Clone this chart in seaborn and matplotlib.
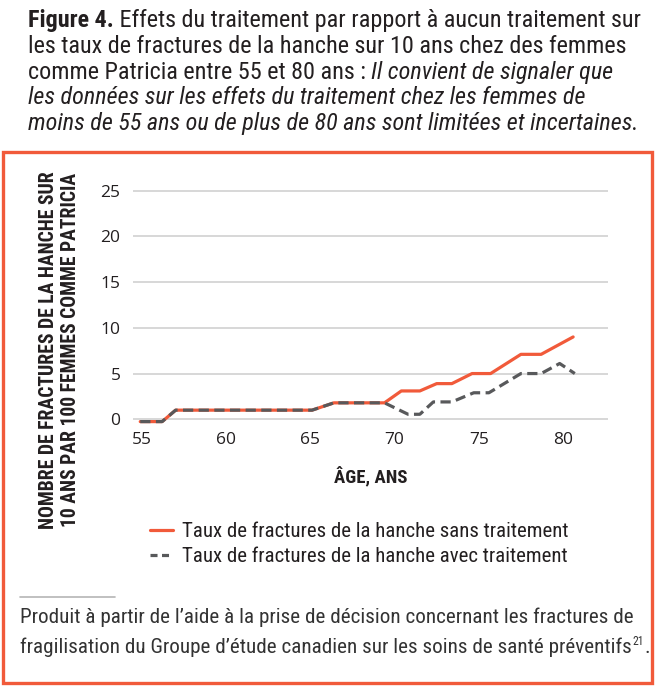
import matplotlib
matplotlib.use("Agg")
import matplotlib.pyplot as plt
import seaborn as sns
from matplotlib.patches import Rectangle
from matplotlib.lines import Line2D

# values
ages_sans = [54.9, 56.2, 57.0, 65.1, 66.4, 69.4, 70.4, 71.5, 72.5, 73.4, 74.6, 75.7, 77.5, 78.7, 80.6]
taux_sans = [-0.25, -0.25, 1.0, 1.0, 1.8, 1.8, 3.1, 3.1, 3.9, 3.9, 5.0, 5.0, 7.1, 7.1, 9.0]
ages_avec = [54.9, 56.2, 57.0, 65.1, 66.4, 69.4, 70.8, 71.5, 72.3, 73.4, 74.7, 75.6, 77.5, 78.7, 79.8, 80.7]
taux_avec = [-0.25, -0.25, 1.0, 1.0, 1.8, 1.8, 0.55, 0.55, 1.9, 1.9, 2.9, 2.9, 5.0, 5.0, 6.1, 5.0]
x_ticks = [55, 60, 65, 70, 75, 80]
y_ticks = [0, 5, 10, 15, 20, 25]
series_labels = ["Taux de fractures de la hanche sans traitement",
                 "Taux de fractures de la hanche avec traitement"]

title_lines = [
    [("Figure 4.", "bold", "normal"), (" Effets du traitement par rapport à aucun traitement sur", "normal", "normal")],
    [("les taux de fractures de la hanche sur 10 ans chez des femmes", "normal", "normal")],
    [("comme Patricia entre 55 et 80 ans : ", "normal", "normal"), ("Il convient de signaler que", "normal", "italic")],
    [("les données sur les effets du traitement chez les femmes de", "normal", "italic")],
    [("moins de 55 ans ou de plus de 80 ans sont limitées et incertaines.", "normal", "italic")],
]
footnote_lines = [
    "Produit à partir de l’aide à la prise de décision concernant les fractures de",
    "fragilisation du Groupe d’étude canadien sur les soins de santé préventifs",
]

RED = "#f15a3a"
GREY = "#58595b"
TEXT = "#231f20"
FONTS = ["Roboto Condensed", "Lato", "Roboto", "DejaVu Sans"]

sns.set_theme(style="white")
plt.rcParams["font.family"] = FONTS

W, H = 657, 687
fig = plt.figure(figsize=(W / 100, H / 100), dpi=100)
renderer = fig.canvas.get_renderer()


def fx(px):
    return px / W


def fy(py):
    return 1 - py / H


def measure(parts, size):
    total = 0
    for txt, weight, style in parts:
        t = fig.text(0, 0, txt, fontsize=size, fontweight=weight, fontstyle=style)
        total += t.get_window_extent(renderer=renderer).width
        t.remove()
    return total


def write_line(x, y, parts, size, color=TEXT):
    for txt, weight, style in parts:
        t = fig.text(fx(x), fy(y), txt, fontsize=size, fontweight=weight,
                     fontstyle=style, color=color, va="baseline", ha="left")
        x += t.get_window_extent(renderer=renderer).width
    return x


# title
title_size = 10 * 607 / measure(title_lines[0], 10)
for i, parts in enumerate(title_lines):
    write_line(28, 27 + i * 25.8, parts, title_size)

# orange frame
fig.patches.append(Rectangle((fx(2.5), fy(683)), fx(652) - fx(2.5), fy(152) - fy(683),
                             transform=fig.transFigure, fill=False, edgecolor=RED, linewidth=2.4))

# chart
ax = fig.add_axes([fx(133), fy(424.8), fx(608) - fx(133), fy(188.7) - fy(424.8)])
sns.lineplot(x=ages_sans, y=taux_sans, ax=ax, color=RED, linewidth=2.3, sort=False)
sns.lineplot(x=ages_avec, y=taux_avec, ax=ax, color=GREY, linewidth=2.3, sort=False,
             linestyle=(0, (3.2, 1.7)))
ax.set_xlim(54.47, 82.67)
ax.set_ylim(-0.6, 25.2)
ax.set_xticks(x_ticks)
ax.set_yticks(y_ticks)
ax.grid(axis="y", color="#d4d4d4", linewidth=1.3)
ax.set_axisbelow(True)
for s in ax.spines.values():
    s.set_visible(False)
ax.tick_params(axis="both", length=0, labelsize=12.5, labelcolor=TEXT,
               labelfontfamily="Open Sans")
ax.tick_params(axis="y", pad=9)
ax.tick_params(axis="x", pad=5)
ax.set_xlabel("ÂGE, ANS", fontsize=13.5, fontweight="bold", color=TEXT, labelpad=13)
ax.set_ylabel("")

# y label, two bold lines
ylab = ["NOMBRE DE FRACTURES DE LA HANCHE SUR", "10 ANS PAR 100 FEMMES COMME PATRICIA"]
ylab_size = 10 * 356 / measure([(ylab[0], "bold", "normal")], 10)
for i, line in enumerate(ylab):
    fig.text(fx(49 + i * 22), fy(350), line, rotation=90, fontsize=ylab_size,
             fontweight="bold", color=TEXT, ha="center", va="center")

# legend
handles = [Line2D([], [], color=RED, linewidth=2.3),
           Line2D([], [], color=GREY, linewidth=2.3, linestyle=(0, (2.2, 1.4)))]
leg_size = 10 * 385 / measure([(series_labels[0], "normal", "normal")], 10)
leg_px = leg_size * 100 / 72
fig.legend(handles, series_labels, loc="center left", bbox_to_anchor=(fx(150), fy(544)),
           frameon=False, fontsize=leg_size,
           handlelength=23 / leg_px, handletextpad=9 / leg_px,
           borderpad=0, borderaxespad=0, labelspacing=0.3, labelcolor=TEXT)

# footnote
fig.lines.append(Line2D([fx(20), fx(115)], [fy(597), fy(597)], transform=fig.transFigure,
                        color="#b5b5b5", linewidth=1.2))
foot_size = 10 * 608 / measure([(footnote_lines[0], "normal", "normal")], 10)
write_line(20, 623, [(footnote_lines[0], "normal", "normal")], foot_size, color="#333333")
xe = write_line(20, 653, [(footnote_lines[1], "normal", "normal")], foot_size, color="#333333")
sup = fig.text(fx(xe + 0.5), fy(645), "21", fontsize=foot_size * 0.55, color="#333333",
               va="baseline")
xe += 0.5 + sup.get_window_extent(renderer=renderer).width
fig.text(fx(xe + 0.5), fy(653), ".", fontsize=foot_size, color="#333333", va="baseline")

fig.savefig("out.png", dpi=100)
plt.close(fig)
